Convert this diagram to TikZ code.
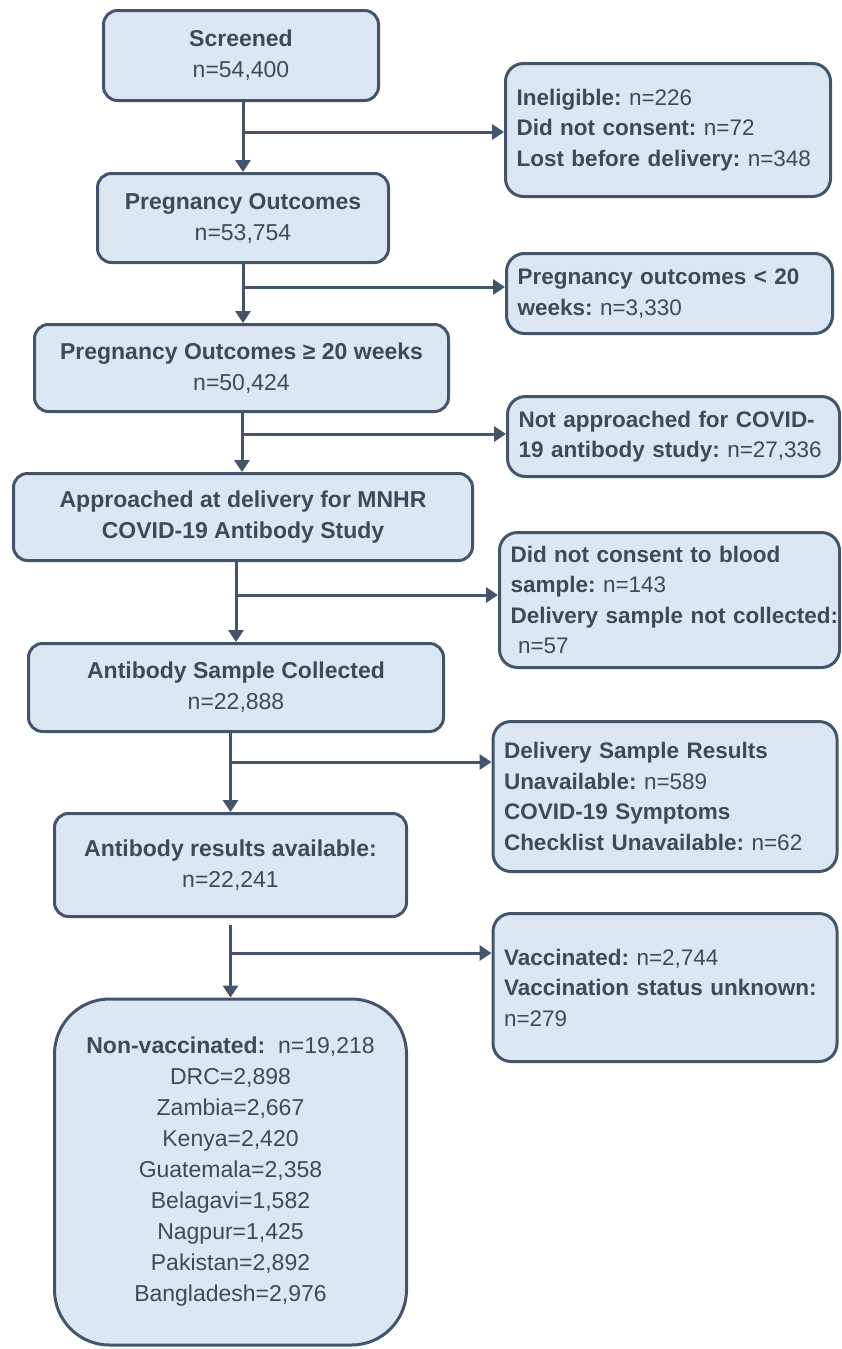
\documentclass[tikz,border=0pt]{standalone}
\usepackage{fontspec}
\setmainfont{Liberation Sans}
\usetikzlibrary{arrows.meta}
\definecolor{boxfill}{RGB}{221,231,243}
\definecolor{boxline}{RGB}{68,84,106}
\definecolor{boxtext}{RGB}{62,74,92}
\newcommand{\oneline}[1]{\mbox{#1}}
\tikzset{
  mainbox/.style={draw=boxline, fill=boxfill, line width=3pt, rounded corners=14pt,
    align=center, text=boxtext, inner sep=0pt,
    font=\fontsize{23}{31}\selectfont\frenchspacing},
  sidebox/.style={draw=boxline, fill=boxfill, line width=3pt, rounded corners=18pt,
    align=left, text=boxtext, inner xsep=11pt, inner ysep=0pt,
    font=\fontsize{22.5}{30.5}\selectfont\frenchspacing},
  arr/.style={draw=boxline, line width=3pt, -{Triangle[width=15pt,length=12pt]}},
  flow/.style={draw=boxline, line width=3pt}
}
\begin{document}
\begin{tikzpicture}[x=1pt,y=-1pt]
\useasboundingbox (0,0) rectangle (842,1349);
% main column
\node[mainbox, minimum width=275pt, minimum height=90pt] (scr) at (241,55.5)
  {\textbf{Screened}\\n=54,400};
\node[mainbox, minimum width=291pt, minimum height=89pt] (preg) at (243,218)
  {\textbf{Pregnancy Outcomes}\\n=53,754};
\node[mainbox, minimum width=414pt, minimum height=87pt] (g20) at (241.5,368)
  {\textbf{Pregnancy Outcomes ≥ 20 weeks}\\n=50,424};
\node[mainbox, minimum width=459pt, minimum height=87pt] (appr) at (243,517)
  {\textbf{Approached at delivery for MNHR}\\\textbf{COVID-19 Antibody Study}};
\node[mainbox, minimum width=415pt, minimum height=88pt] (samp) at (236,687.5)
  {\textbf{Antibody Sample Collected}\\n=22,888};
\node[mainbox, minimum width=352pt, minimum height=103pt] (res) at (230.5,865)
  {\textbf{Antibody results available:}\\n=22,241};
\node[mainbox, rounded corners=55pt, minimum width=352pt, minimum height=346pt] (nv) at (230.5,1172)
  {\textbf{Non-vaccinated:}\ \ n=19,218\\DRC=2,898\\Zambia=2,667\\Kenya=2,420\\Guatemala=2,358\\Belagavi=1,582\\Nagpur=1,425\\Pakistan=2,892\\Bangladesh=2,976};
% side boxes
\node[sidebox, text width=303pt, minimum height=133pt] (r1) at (668,130)
  {\oneline{\textbf{Ineligible:} n=226}\\\oneline{\textbf{Did not consent:} n=72}\\\oneline{\textbf{Lost before delivery:} n=348}};
\node[sidebox, text width=304pt, minimum height=80pt] (r2) at (669.5,293.5)
  {\oneline{\textbf{Pregnancy outcomes < 20}}\\\oneline{\textbf{weeks:} n=3,330}};
\node[sidebox, text width=310pt, minimum height=80pt] (r3) at (673.5,436.5)
  {\oneline{\textbf{Not approached for COVID-}}\\\oneline{\textbf{19 antibody study:} n=27,336}};
\node[sidebox, text width=318pt, minimum height=135pt] (r4) at (669.5,600)
  {\oneline{\textbf{Did not consent to blood}}\\\oneline{\textbf{sample:} n=143}\\\oneline{\textbf{Delivery sample not collected:}}\\\oneline{\ n=57}};
\node[sidebox, text width=322pt, minimum height=150pt] (r5) at (665,796.5)
  {\oneline{\textbf{Delivery Sample Results}}\\\oneline{\textbf{Unavailable:} n=589}\\\oneline{\textbf{COVID-19 Symptoms}}\\\oneline{\textbf{Checklist Unavailable:} n=62}};
\node[sidebox, text width=322pt, minimum height=148pt] (r6) at (665,987.5)
  {\oneline{\textbf{Vaccinated:} n=2,744}\\\oneline{\textbf{Vaccination status unknown:}}\\\oneline{n=279}};
% branch points
\coordinate (b1) at (243,132);
\coordinate (b2) at (243,287);
\coordinate (b3) at (242,434);
\coordinate (b4) at (236,595);
\coordinate (b5) at (230.5,762);
\coordinate (b6) at (230.5,953);
\coordinate (s6) at (230.5,925);
% connectors
\draw[arr] (scr.south -| preg.north) -- (preg.north);
\draw[arr] (b1) -- (b1 -| r1.west);
\draw[arr] (preg.south) -- (preg.south |- g20.north);
\draw[arr] (b2) -- (b2 -| r2.west);
\draw[arr] (g20.south -| b3) -- (b3 |- appr.north);
\draw[arr] (b3) -- (b3 -| r3.west);
\draw[arr] (appr.south -| samp.north) -- (samp.north);
\draw[arr] (b4) -- (b4 -| r4.west);
\draw[arr] (samp.south -| res.north) -- (res.north);
\draw[arr] (b5) -- (b5 -| r5.west);
\draw[arr] (s6) -- (nv.north);
\draw[arr] (b6) -- (b6 -| r6.west);
\end{tikzpicture}
\end{document}
